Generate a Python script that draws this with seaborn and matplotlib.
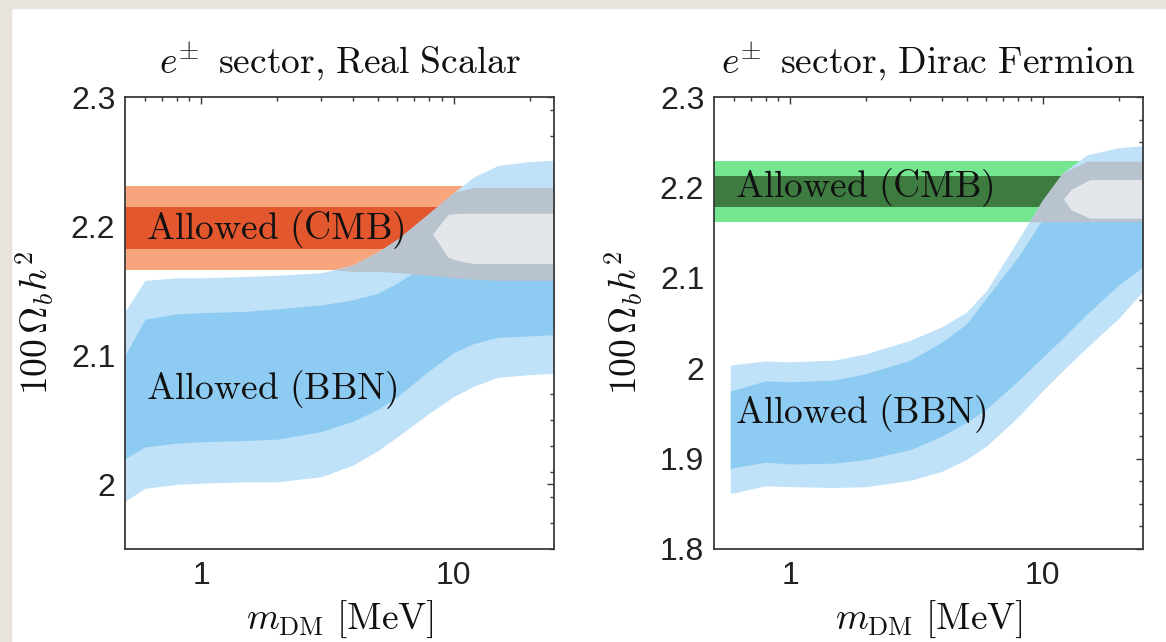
import numpy as np
import matplotlib
matplotlib.use("Agg")
import matplotlib.pyplot as plt
from matplotlib.patches import Rectangle
from matplotlib.ticker import FixedLocator, FixedFormatter, NullFormatter
import seaborn as sns

# ---------------------------------------------------------------------------
# Allowed 100*Omega_b h^2 versus dark-matter mass m_DM [MeV]
# ---------------------------------------------------------------------------

# Real scalar, e+- sector
mass_scalar = [0.5, 0.6, 0.8, 1, 1.5, 2, 3, 4, 5, 6, 8, 10, 12, 15, 20, 25]
bbn2_hi_scalar = [2.134, 2.158, 2.160, 2.160, 2.161, 2.162, 2.164, 2.170, 2.180,
                  2.190, 2.210, 2.226, 2.238, 2.247, 2.250, 2.251]
bbn2_lo_scalar = [1.987, 1.997, 2.000, 2.001, 2.002, 2.002, 2.006, 2.015, 2.026,
                  2.037, 2.055, 2.068, 2.076, 2.083, 2.085, 2.086]
bbn1_hi_scalar = [2.100, 2.128, 2.132, 2.133, 2.134, 2.136, 2.139, 2.143, 2.148,
                  2.156, 2.172, 2.185, 2.195, 2.205, 2.212, 2.215]
bbn1_lo_scalar = [2.020, 2.029, 2.032, 2.033, 2.034, 2.035, 2.041, 2.049, 2.058,
                  2.068, 2.088, 2.102, 2.109, 2.114, 2.115, 2.116]
cmb1_scalar = [2.182, 2.215]
cmb2_scalar = [2.166, 2.231]
# combined CMB+BBN overlap
comb_mass_scalar = [3.4, 4, 5, 6, 8, 10, 12, 15, 20, 25]
comb2_hi_scalar = [2.166, 2.170, 2.180, 2.190, 2.210, 2.226, 2.230, 2.230, 2.230, 2.230]
comb2_lo_scalar = [2.166, 2.165, 2.165, 2.164, 2.162, 2.160, 2.159, 2.158, 2.158, 2.158]
core_mass_scalar = [8.25, 9.5, 10.5, 12, 15, 20, 25]
comb1_hi_scalar = [2.194, 2.209, 2.210, 2.210, 2.210, 2.210, 2.210]
comb1_lo_scalar = [2.194, 2.176, 2.173, 2.171, 2.171, 2.171, 2.171]

# Dirac fermion, e+- sector
mass_dirac = [0.58, 0.6, 0.8, 1, 1.5, 2, 3, 4, 5, 6, 8, 10, 12, 15, 20, 25]
bbn2_hi_dirac = [2.003, 2.004, 2.008, 2.007, 2.009, 2.016, 2.031, 2.046, 2.062,
                 2.086, 2.142, 2.186, 2.216, 2.236, 2.244, 2.246]
bbn2_lo_dirac = [1.862, 1.862, 1.870, 1.869, 1.868, 1.869, 1.876, 1.886, 1.899,
                 1.914, 1.946, 1.975, 1.997, 2.023, 2.055, 2.085]
bbn1_hi_dirac = [1.975, 1.976, 1.986, 1.985, 1.987, 1.994, 2.009, 2.029, 2.049,
                 2.078, 2.123, 2.165, 2.193, 2.210, 2.216, 2.218]
bbn1_lo_dirac = [1.889, 1.890, 1.896, 1.894, 1.895, 1.899, 1.910, 1.925, 1.940,
                 1.955, 1.986, 2.012, 2.033, 2.060, 2.092, 2.112]
cmb1_dirac = [2.178, 2.213]
cmb2_dirac = [2.162, 2.229]
comb_mass_dirac = [8.9, 10, 12, 15, 20, 25]
comb2_hi_dirac = [2.162, 2.186, 2.216, 2.229, 2.229, 2.229]
comb2_lo_dirac = [2.162, 2.162, 2.162, 2.162, 2.162, 2.162]
core_mass_dirac = [12.1, 13, 15.4, 20, 25]
comb1_hi_dirac = [2.187, 2.198, 2.2086, 2.2086, 2.2086]
comb1_lo_dirac = [2.187, 2.175, 2.166, 2.166, 2.166]

# axis ticks
x_major = [1, 10]
x_major_labels = ["1", "10"]
x_minor = [0.6, 0.7, 0.8, 0.9, 2, 3, 4, 5, 6, 7, 8, 9, 20]
y_major_scalar = [2.0, 2.1, 2.2, 2.3]
y_labels_scalar = ["2", "2.1", "2.2", "2.3"]
y_major_dirac = [1.8, 1.9, 2.0, 2.1, 2.2, 2.3]
y_labels_dirac = ["1.8", "1.9", "2", "2.1", "2.2", "2.3"]

# ---------------------------------------------------------------------------
sns.set_theme(style="white")
plt.rcParams["mathtext.fontset"] = "cm"
plt.rcParams["font.family"] = ["Liberation Sans", "DejaVu Sans"]

BBN2 = "#c0e2f8"
BBN1 = "#8ecbf2"
COMB2 = "#b8c3cd"
COMB1 = "#e3e7eb"
SPINE = "#3a3a3a"
TEXT_SIZE = 27
TICK_SIZE = 23

W, H = 1166, 642
fig = plt.figure(figsize=(W / 100, H / 100), dpi=100, facecolor="white")
beige = "#e8e4dc"
fig.patches.append(Rectangle((0, 0), 11 / W, 1, transform=fig.transFigure,
                             color=beige, zorder=-5))
fig.patches.append(Rectangle((0, 1 - 8 / H), 1, 8 / H, transform=fig.transFigure,
                             color=beige, zorder=-5))

ax_w, ax_h = 429 / W, 452 / H
ax_b = 1 - 549 / H
ax1 = fig.add_axes([125 / W, ax_b, ax_w, ax_h])
ax2 = fig.add_axes([714 / W, ax_b, ax_w, ax_h])


def draw_panel(ax, mass, b2hi, b2lo, b1hi, b1lo, cmb1, cmb2, cmb_colors,
               cmass, c2hi, c2lo, kmass, c1hi, c1lo, title, ylim,
               yticks, ylabels, yminor_step, cmb_text_y, bbn_text_y):
    ax.set_xscale("log")
    ax.axhspan(cmb2[0], cmb2[1], color=cmb_colors[0], lw=0, zorder=1)
    ax.axhspan(cmb1[0], cmb1[1], color=cmb_colors[1], lw=0, zorder=1.1)
    ax.fill_between(mass, b2lo, b2hi, color=BBN2, lw=0, zorder=2)
    ax.fill_between(mass, b1lo, b1hi, color=BBN1, lw=0, zorder=2.1)
    ax.fill_between(cmass, c2lo, c2hi, color=COMB2, lw=0, zorder=3)
    ax.fill_between(kmass, c1lo, c1hi, color=COMB1, lw=0, zorder=3.1)

    ax.text(0.605, cmb_text_y, r"$\mathrm{Allowed\ (CMB)}$", fontsize=TEXT_SIZE,
            ha="left", va="center", color="#111111", zorder=5)
    ax.text(0.605, bbn_text_y, r"$\mathrm{Allowed\ (BBN)}$", fontsize=TEXT_SIZE,
            ha="left", va="center", color="#111111", zorder=5)

    ax.set_xlim(0.5, 25)
    ax.set_ylim(*ylim)
    ax.xaxis.set_major_locator(FixedLocator(x_major))
    ax.xaxis.set_major_formatter(FixedFormatter(x_major_labels))
    ax.xaxis.set_minor_locator(FixedLocator(x_minor))
    ax.xaxis.set_minor_formatter(NullFormatter())
    ax.yaxis.set_major_locator(FixedLocator(yticks))
    ax.yaxis.set_major_formatter(FixedFormatter(ylabels))
    ax.yaxis.set_minor_locator(FixedLocator(
        np.arange(ylim[0], ylim[1] + 1e-9, yminor_step)))
    ax.yaxis.set_minor_formatter(NullFormatter())

    ax.tick_params(which="both", direction="in", top=True, right=True,
                   color=SPINE, width=1.0)
    ax.tick_params(which="major", length=5)
    ax.tick_params(which="minor", length=3)
    ax.tick_params(axis="y", labelsize=TICK_SIZE, pad=7, labelcolor="#222222")
    ax.tick_params(axis="x", labelsize=TICK_SIZE, pad=9, labelcolor="#222222")
    for s in ax.spines.values():
        s.set_color(SPINE)
        s.set_linewidth(1.3)
        s.set_zorder(6)

    ax.set_title(title, fontsize=TEXT_SIZE, pad=16, color="#111111")
    ax.set_xlabel(r"$m_{\mathrm{DM}}\ [\mathrm{MeV}]$", fontsize=TEXT_SIZE,
                  labelpad=5, color="#111111")
    ax.set_ylabel(r"$100\,\Omega_b h^2$", fontsize=TEXT_SIZE, labelpad=10,
                  color="#111111")


draw_panel(ax1, mass_scalar, bbn2_hi_scalar, bbn2_lo_scalar, bbn1_hi_scalar,
           bbn1_lo_scalar, cmb1_scalar, cmb2_scalar, ("#f8a57e", "#e3572e"),
           comb_mass_scalar, comb2_hi_scalar, comb2_lo_scalar,
           core_mass_scalar, comb1_hi_scalar, comb1_lo_scalar,
           r"$e^{\pm}\,\mathrm{\ sector{,}\ Real\ Scalar}$", (1.95, 2.3),
           y_major_scalar, y_labels_scalar, 0.02, 2.1977, 2.0733)

draw_panel(ax2, mass_dirac, bbn2_hi_dirac, bbn2_lo_dirac, bbn1_hi_dirac,
           bbn1_lo_dirac, cmb1_dirac, cmb2_dirac, ("#74e68f", "#3d7b41"),
           comb_mass_dirac, comb2_hi_dirac, comb2_lo_dirac,
           core_mass_dirac, comb1_hi_dirac, comb1_lo_dirac,
           r"$e^{\pm}\,\mathrm{\ sector{,}\ Dirac\ Fermion}$", (1.8, 2.3),
           y_major_dirac, y_labels_dirac, 0.025, 2.200, 1.9497)

fig.savefig("out.png", dpi=100, facecolor=fig.get_facecolor())
